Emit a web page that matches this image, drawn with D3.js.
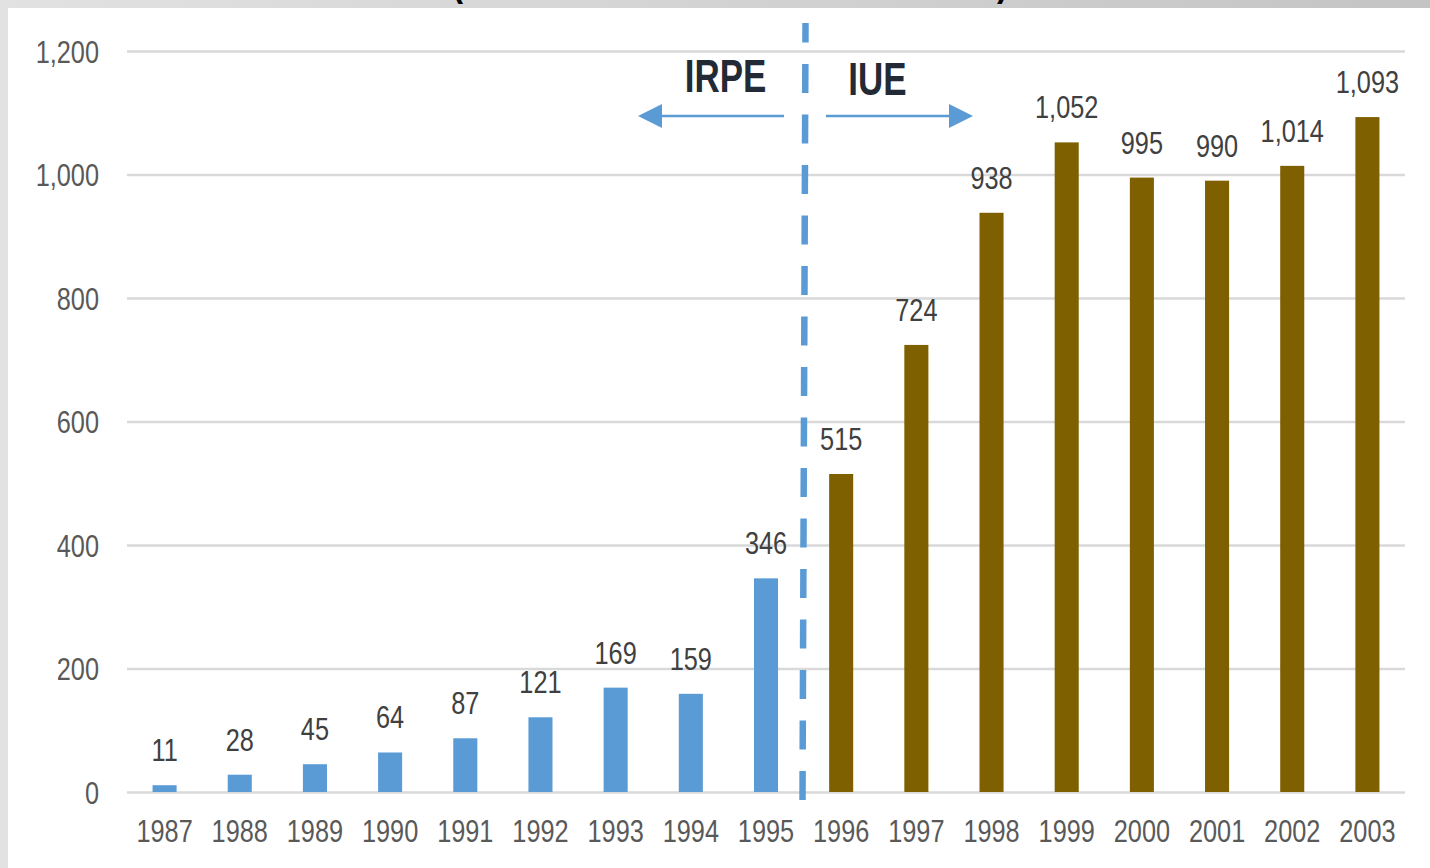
<!DOCTYPE html>
<html>
<head>
<meta charset="utf-8">
<script src="https://cdn.jsdelivr.net/npm/d3@7"></script>
<style>
  html, body { margin: 0; padding: 0; background: #fff; overflow: hidden; }
  svg { display: block; }
</style>
</head>
<body>
<script>
const years = ["1987","1988","1989","1990","1991","1992","1993","1994","1995","1996","1997","1998","1999","2000","2001","2002","2003"];
const values = [11, 28, 45, 64, 87, 121, 169, 159, 346, 515, 724, 938, 1052, 995, 990, 1014, 1093];
const programs = ["IRPE","IRPE","IRPE","IRPE","IRPE","IRPE","IRPE","IRPE","IRPE","IUE","IUE","IUE","IUE","IUE","IUE","IUE","IUE"];
const yTicks = [0, 200, 400, 600, 800, 1000, 1200];
const programLabels = ["IRPE", "IUE"];

const W = 1430, H = 868;
const FONT = "'Liberation Sans', Arial, sans-serif";
const SX = 0.83;      // horizontal condensing for narrow look
const SXB = 0.76;     // for bold labels
const colors = { IRPE: "#5b9bd5", IUE: "#7f6000" };

const svg = d3.select("body").append("svg").attr("width", W).attr("height", H);
const defs = svg.append("defs");
const grad = defs.append("linearGradient").attr("id", "bg").attr("x1", "0%").attr("x2", "100%").attr("y1", "0%").attr("y2", "0%");
grad.append("stop").attr("offset", "0%").attr("stop-color", "#e2e2e2");
grad.append("stop").attr("offset", "100%").attr("stop-color", "#c4c4c4");

svg.append("rect").attr("width", W).attr("height", H).attr("fill", "url(#bg)");
svg.append("rect").attr("x", 8).attr("y", 8).attr("width", W - 8).attr("height", H - 8).attr("fill", "#fff");

// cut-off title parentheses at very top
function narrowText(sel, px, py, sx) {
  return sel.attr("x", null).attr("y", null).attr("transform", `translate(${px},${py}) scale(${sx},1)`);
}
narrowText(svg.append("text"), 452, -4, SX).attr("font-family", FONT).attr("font-weight", "bold")
  .attr("font-size", 40).attr("fill", "#000").text("(");
narrowText(svg.append("text"), 997, -4, SX).attr("font-family", FONT).attr("font-weight", "bold")
  .attr("font-size", 40).attr("fill", "#000").text(")");

const x = d3.scaleBand().domain(years).range([127, 1405]).paddingInner(0.68).paddingOuter(0.34);
const y = d3.scaleLinear().domain([0, 1200]).range([792, 51]);

// gridlines + y labels
const yAxis = d3.axisLeft(y).tickValues(yTicks).tickSize(-(1405 - 127)).tickFormat(d3.format(","));
const gy = svg.append("g").attr("transform", "translate(127,0)").call(yAxis);
gy.select(".domain").remove();
gy.selectAll(".tick line").attr("stroke", "#d9d9d9").attr("stroke-width", 2.5);
gy.selectAll(".tick text").attr("x", null).attr("dy", null)
  .attr("transform", `translate(-28,11) scale(${SX},1)`)
  .attr("font-family", FONT).attr("font-size", 30.5).attr("fill", "#595959");

// x axis labels
const xAxis = d3.axisBottom(x).tickSize(0).tickPadding(0);
const gx = svg.append("g").attr("transform", "translate(0,792)").call(xAxis);
gx.select(".domain").remove();
gx.selectAll(".tick text").attr("y", null).attr("dy", null)
  .attr("transform", `translate(0,50) scale(${SX},1)`)
  .attr("font-family", FONT).attr("font-size", 30.5).attr("fill", "#595959");

// bars
const data = years.map((yr, i) => ({ year: yr, value: values[i], prog: programs[i] }));
svg.append("g").selectAll("rect").data(data).join("rect")
  .attr("x", d => x(d.year)).attr("width", x.bandwidth())
  .attr("y", d => y(d.value)).attr("height", d => y(0) - y(d.value))
  .attr("fill", d => colors[d.prog]);

// value labels
svg.append("g").selectAll("text").data(data).join("text")
  .attr("transform", d => `translate(${x(d.year) + x.bandwidth() / 2},${y(d.value) - 24}) scale(${SX},1)`)
  .attr("text-anchor", "middle")
  .attr("font-family", FONT).attr("font-size", 30.5).attr("fill", "#404040")
  .text(d => d3.format(",")(d.value));

// dashed divider
svg.append("line").attr("x1", 802.5).attr("y1", 800).attr("x2", 805.5).attr("y2", 23)
  .attr("stroke", "#5b9bd5").attr("stroke-width", 6.5).attr("stroke-dasharray", "29 21.5");

// arrows
function arrow(x0, x1, yy) {
  const dir = Math.sign(x1 - x0);
  const headLen = 24, headHalf = 12;
  svg.append("line").attr("x1", x0).attr("y1", yy).attr("x2", x1 - dir * headLen).attr("y2", yy)
    .attr("stroke", "#5b9bd5").attr("stroke-width", 2.5);
  svg.append("path")
    .attr("d", `M${x1},${yy} L${x1 - dir * headLen},${yy - headHalf} L${x1 - dir * headLen},${yy + headHalf} Z`)
    .attr("fill", "#5b9bd5");
}
arrow(784, 638, 116);
arrow(826, 973, 116);

narrowText(svg.append("text"), 725.5, 92, SXB).attr("text-anchor", "middle")
  .attr("font-family", FONT).attr("font-weight", "bold").attr("font-size", 46).attr("fill", "#222a35")
  .text(programLabels[0]);
narrowText(svg.append("text"), 877.5, 95, SXB).attr("text-anchor", "middle")
  .attr("font-family", FONT).attr("font-weight", "bold").attr("font-size", 46).attr("fill", "#222a35")
  .text(programLabels[1]);
</script>
</body>
</html>
